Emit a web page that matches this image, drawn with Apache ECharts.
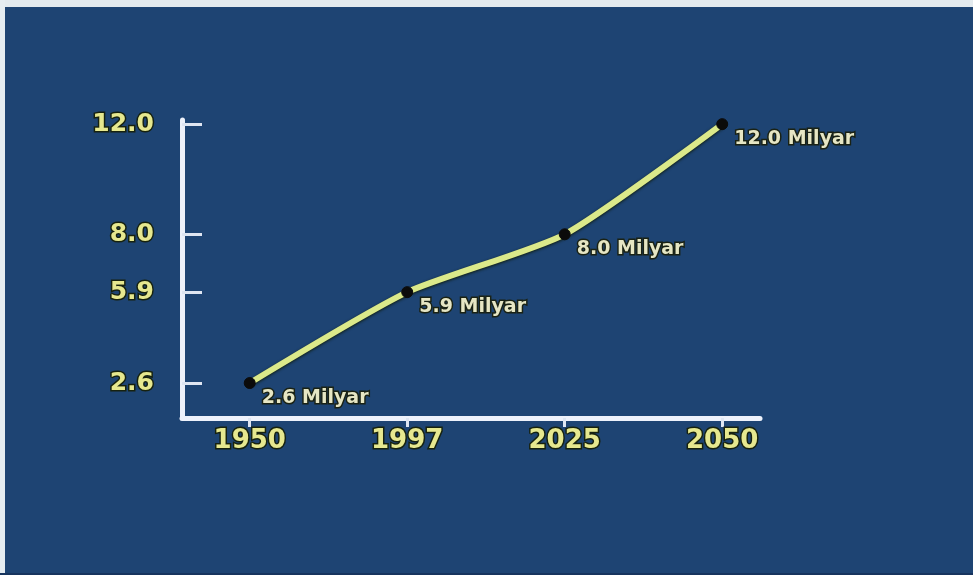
<!DOCTYPE html>
<html>
<head>
<meta charset="utf-8">
<title>Dünya Nüfusu</title>
<script src="https://cdn.jsdelivr.net/npm/echarts@6/dist/echarts.min.js"></script>
<style>
  html, body { margin: 0; padding: 0; background: #1e4473; }
  #chart { width: 973px; height: 575px; }
</style>
</head>
<body>
<div id="chart"></div>
<script>
// World population, billions
const years = ['1950', '1997', '2025', '2050'];
const population = [2.6, 5.9, 8.0, 12.0];
const yTicks = [2.6, 5.9, 8.0, 12.0];
const unit = 'Milyar';

const labelFont = 'DejaVu Sans';
const points = years.map((y, i) => [i, population[i]]);

const chart = echarts.init(document.getElementById('chart'), null, { renderer: 'canvas' });

chart.setOption({
  backgroundColor: '#1e4473',
  animation: false,
  graphic: [
    { type: 'rect', left: 0, top: 0, shape: { width: 973, height: 7 }, style: { fill: '#e3eaee' } },
    { type: 'rect', left: 0, top: 0, shape: { width: 5, height: 575 }, style: { fill: '#e6edf1' } },
    { type: 'rect', left: 0, bottom: 0, shape: { width: 973, height: 2 }, style: { fill: '#17345e' } }
  ],
  grid: { left: 182, right: 213, top: 120, bottom: 157, containLabel: false },
  xAxis: {
    type: 'value',
    min: -0.43,
    max: 3.24,
    splitLine: { show: false },
    axisLine: { show: true, onZero: false, lineStyle: { color: '#eef2fb', width: 5 } },
    axisTick: {
      show: true, inside: false, length: 9, customValues: [0, 1, 2, 3],
      lineStyle: { color: '#dfe6f2', width: 3 }
    },
    axisLabel: {
      customValues: [0, 1, 2, 3],
      formatter: v => years[Math.round(v)],
      margin: 10,
      color: '#e6e88f',
      fontFamily: labelFont,
      fontWeight: 'bold',
      fontSize: 26,
      textBorderColor: '#17220f',
      textBorderWidth: 3
    }
  },
  yAxis: {
    type: 'value',
    min: 1.33,
    max: 12.15,
    splitLine: { show: false },
    axisLine: { show: true, onZero: false, lineStyle: { color: '#eef2fb', width: 5 } },
    axisTick: {
      show: true, inside: true, length: 20, customValues: yTicks,
      lineStyle: { color: '#dfe6f2', width: 3 }
    },
    axisLabel: {
      customValues: yTicks,
      formatter: v => v.toFixed(1),
      margin: 28,
      padding: [12, 0, 0, 0],
      color: '#e6e88f',
      fontFamily: labelFont,
      fontWeight: 'bold',
      fontSize: 25,
      textBorderColor: '#17220f',
      textBorderWidth: 3
    }
  },
  series: [{
    type: 'line',
    data: points,
    smooth: 0.2,
    symbol: 'circle',
    symbolSize: 11,
    itemStyle: { color: '#0b0b0b', borderColor: '#0b0b0b' },
    lineStyle: {
      color: '#dbe98a',
      width: 6,
      shadowColor: 'rgba(15,25,5,0.95)',
      shadowBlur: 3,
      shadowOffsetY: 1
    },
    label: {
      show: true,
      position: 'right',
      distance: 6,
      offset: [0, 15],
      formatter: p => p.value[1].toFixed(1) + ' ' + unit,
      color: '#e6e6c4',
      fontFamily: labelFont,
      fontWeight: 'bold',
      fontSize: 19,
      textBorderColor: '#1a2214',
      textBorderWidth: 3
    }
  }]
});
</script>
</body>
</html>
